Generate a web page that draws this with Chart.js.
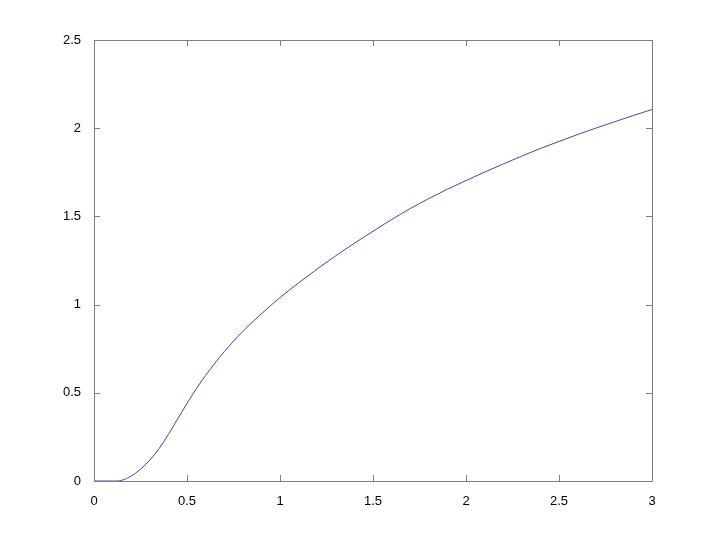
<!DOCTYPE html>
<html>
<head>
<meta charset="utf-8">
<script src="https://cdn.jsdelivr.net/npm/chart.js@4/dist/chart.umd.min.js"></script>
<style>
  html, body { margin: 0; padding: 0; background: #fff; }
  #wrap { width: 720px; height: 540px; }
</style>
</head>
<body>
<div id="wrap"><canvas id="chart-line"></canvas></div>
<script>
// values
let xValues = [0, 0.1, 0.12, 0.15, 0.2, 0.25, 0.3, 0.35, 0.4, 0.45, 0.5, 0.55, 0.6, 0.7, 0.8, 0.9, 1.0,
               1.1, 1.2, 1.3, 1.4, 1.5, 1.6, 1.7, 1.8, 1.9, 2.0,
               2.1, 2.2, 2.3, 2.4, 2.5, 2.6, 2.7, 2.8, 2.9, 3.0]
let yValues = [0, 0, 0, 0.004, 0.028, 0.067, 0.118, 0.184, 0.264, 0.352, 0.44, 0.523, 0.598, 0.733, 0.848, 0.948, 1.04,
               1.123, 1.202, 1.277, 1.348, 1.416, 1.482, 1.544, 1.601, 1.654, 1.703,
               1.751, 1.797, 1.842, 1.885, 1.925, 1.964, 2.001, 2.037, 2.072, 2.106]
let xTicks = [0, 0.5, 1, 1.5, 2, 2.5, 3]
let yTicks = [0, 0.5, 1, 1.5, 2, 2.5]

let points = []
for (let i = 0; i < xValues.length; i++) {
    points.push({ x: xValues[i], y: yValues[i] })
}

const axisColor = "rgb(128, 128, 128)"

// MATLAB-like box with inward ticks on all four sides
const boxPlugin = {
    id: "box",
    afterDraw(chart) {
        const ctx = chart.ctx
        const a = chart.chartArea
        const xs = chart.scales.x
        const ys = chart.scales.y
        const len = 6
        ctx.save()
        ctx.strokeStyle = axisColor
        ctx.lineWidth = 1
        ctx.beginPath()
        ctx.rect(Math.round(a.left) + 0.5, Math.round(a.top) + 0.5, Math.round(a.right - a.left), Math.round(a.bottom - a.top))
        xTicks.forEach(v => {
            let px = Math.round(xs.getPixelForValue(v)) + 0.5
            ctx.moveTo(px, a.bottom); ctx.lineTo(px, a.bottom - len)
            ctx.moveTo(px, a.top); ctx.lineTo(px, a.top + len)
        })
        yTicks.forEach(v => {
            let py = Math.round(ys.getPixelForValue(v)) + 0.5
            ctx.moveTo(a.left, py); ctx.lineTo(a.left + len, py)
            ctx.moveTo(a.right, py); ctx.lineTo(a.right - len, py)
        })
        ctx.stroke()
        ctx.restore()
    }
}

let lineChart = new Chart(
    document.getElementById("chart-line").getContext('2d'),
    {
        type: "scatter",
        data: {
            datasets: [{
                data: points,
                showLine: true,
                borderColor: "rgb(70, 70, 170)",
                borderWidth: 1,
                pointRadius: 0,
                cubicInterpolationMode: "monotone"
            }]
        },
        options: {
            responsive: true,
            maintainAspectRatio: false,
            animation: false,
            layout: { padding: { left: 0, right: 68, top: 40, bottom: 0 } },
            plugins: {
                legend: { display: false },
                tooltip: { enabled: false }
            },
            scales: {
                x: {
                    type: "linear",
                    min: 0,
                    max: 3,
                    afterBuildTicks: (s) => { s.ticks = xTicks.map(v => ({ value: v })) },
                    afterFit: (s) => { s.height = 59 },
                    grid: { display: false },
                    border: { display: false },
                    ticks: {
                        color: "#000",
                        padding: 5,
                        maxRotation: 0,
                        callback: (v) => String(v),
                        font: { family: "'Liberation Sans', Arial, sans-serif", size: 13 }
                    }
                },
                y: {
                    type: "linear",
                    min: 0,
                    max: 2.5,
                    afterBuildTicks: (s) => { s.ticks = yTicks.map(v => ({ value: v })) },
                    afterFit: (s) => { s.width = 94 },
                    grid: { display: false },
                    border: { display: false },
                    ticks: {
                        color: "#000",
                        padding: 5,
                        callback: (v) => String(v),
                        font: { family: "'Liberation Sans', Arial, sans-serif", size: 13 }
                    }
                }
            }
        },
        plugins: [boxPlugin]
    }
)
</script>
</body>
</html>
